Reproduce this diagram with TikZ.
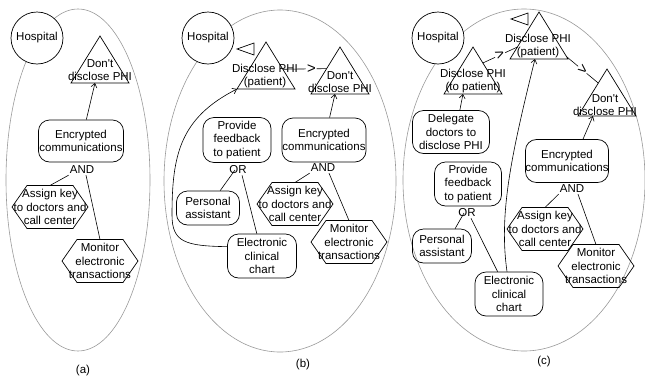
\documentclass[tikz,border=0pt]{standalone}
\usepackage{fontspec}
\setmainfont{Liberation Sans}
\usetikzlibrary{arrows.meta,calc}

\tikzset{
  every node/.style={font=\fontsize{11.5}{13.2}\selectfont, inner sep=0pt, align=center},
  boundary/.style={draw=black!40, line width=0.6pt},
  shapeline/.style={draw, line width=0.7pt},
  actor/.style={shapeline, circle, fill=white, minimum size=52pt},
  task/.style={shapeline, rounded corners=11pt},
  opmark/.style={inner sep=1pt},
  link/.style={line width=0.6pt},
  contrib/.style={link, -{Straight Barb[length=4pt,width=6pt]}},
  prefmark/.style={fill=white, sloped, font=\fontsize{15}{15}\selectfont, inner sep=1pt}
}

% softgoal triangle: name, apex x, apex y
\newcommand\softgoal[3]{%
  \coordinate (#1-apex) at (#2,#3);
  \coordinate (#1-bl) at ({#2-29},{#3+47});
  \coordinate (#1-br) at ({#2+29},{#3+47});
  \coordinate (#1-base) at (#2,{#3+47});
  \draw[shapeline] (#1-apex) -- (#1-br) -- (#1-bl) -- cycle;}

% hexagonal border around a resource node
\newcommand\hexborder[1]{%
  \draw[shapeline] ([shift={(-38pt,0pt)}]#1.center) -- ([shift={(-23pt,21.5pt)}]#1.center)
    -- ([shift={(23pt,21.5pt)}]#1.center) -- ([shift={(38pt,0pt)}]#1.center)
    -- ([shift={(23pt,-21.5pt)}]#1.center) -- ([shift={(-23pt,-21.5pt)}]#1.center) -- cycle;}

\begin{document}
\begin{tikzpicture}[x=1pt,y=-1pt]
\useasboundingbox (0,0) rectangle (645,378);

% ---------------- (a) ----------------
\draw[boundary] (78,180) ellipse [x radius=72pt, y radius=171pt];
\node[actor] (hosA) at (37,38) {Hospital};
\softgoal{dnA}{100}{36}
\node (dnAt) at (100,70) {Don\textquotesingle t\\disclose PHI};
\node[task, minimum width=85pt, minimum height=42pt] (encA) at (81,141) {Encrypted\\communications};
\node[opmark] (andA) at (82,170) {AND};
\node (asgA) at (50,207) {Assign key\\to doctors and\\call center};
\hexborder{asgA}
\node (monA) at (100,261) {Monitor\\electronic\\transactions};
\hexborder{monA}
\draw[contrib] (encA.76) -- ([xshift=-5pt]dnA-base);
\draw[link] (andA.south west) -- ([yshift=21.5pt]asgA.center);
\draw[link] ([xshift=4pt]andA.south) -- ([yshift=21.5pt]monA.center);
\node (capA) at (83,371) {(a)};

% ---------------- (b) ----------------
\draw[boundary] (280,181) ellipse [x radius=116pt, y radius=171pt];
\node[actor] (hosB) at (208,38) {Hospital};
\draw[shapeline] (237,49) -- (254,43) -- (254,55) -- cycle;
\softgoal{dpB}{266}{42}
\node (dpBt) at (265,76) {Disclose PHI\\(patient)};
\softgoal{dnB}{340}{47}
\node (dnBt) at (340,82) {Don\textquotesingle t\\disclose PHI};
\draw[link] ($(dpB-apex)!0.58!(dpB-br)$) -- node[prefmark, pos=0.65] {>} ($(dnB-apex)!0.46!(dnB-bl)$);
\node[task, minimum width=68pt, minimum height=45pt] (pfB) at (237,140) {Provide\\feedback\\to patient};
\node[opmark] (orB) at (238,170) {OR};
\node[task, minimum width=63pt, minimum height=34pt] (paB) at (208,208) {Personal\\assistant};
\node[task, minimum width=69pt, minimum height=44pt] (chB) at (262,256) {Electronic\\clinical\\chart};
\node[task, minimum width=84pt, minimum height=44pt] (encB) at (324,140) {Encrypted\\communications};
\node[opmark] (andB) at (323,168) {AND};
\node (asgB) at (295,204) {Assign key\\to doctors and\\call center};
\hexborder{asgB}
\node (monB) at (349,242) {Monitor\\electronic\\transactions};
\hexborder{monB}
\draw[contrib] (encB.76) -- ([xshift=-5pt]dnB-base);
\draw[link] ([xshift=-3pt]orB.center) -- (paB.55);
\draw[link] ([xshift=4pt]orB.south) -- (chB.103);
\draw[link] (andB.south west) -- ([yshift=21.5pt]asgB.center);
\draw[link] ([xshift=6pt]andB.south) -- ([yshift=21.5pt]monB.center);
\draw[contrib] (chB.165) .. controls (185,246) and (172,242) .. (172,215)
  .. controls (172,155) and (180,118) .. (dpB-bl);
\node (capB) at (303,365) {(b)};

% ---------------- (c) ----------------
\draw[boundary] (524,180) ellipse [x radius=121pt, y radius=171pt];
\node[actor] (hosC) at (438,38) {Hospital};
\draw[shapeline] (511,19) -- (528,13) -- (528,25) -- cycle;
\softgoal{dpC}{539}{12}
\node (dpCt) at (538,46) {Disclose PHI\\(patient)};
\softgoal{tpC}{473}{47}
\node (tpCt) at (473,81) {Disclose PHI\\(to patient)};
\softgoal{dnC}{607}{69}
\node (dnCt) at (605,105) {Don\textquotesingle t\\disclose PHI};
\draw[link] ($(tpC-apex)!0.34!(tpC-br)$) -- node[prefmark] {>} ($(dpC-apex)!0.745!(dpC-bl)$);
\draw[link] ($(dpC-apex)!0.95!(dpC-br)$) -- node[prefmark] {>} ($(dnC-apex)!0.3!(dnC-bl)$);
\node[task, minimum width=77pt, minimum height=43pt] (dlC) at (451,132) {Delegate\\doctors to\\disclose PHI};
\draw[contrib] (dlC.68) -- ([xshift=-10pt]tpC-base);
\node[task, minimum width=67pt, minimum height=44pt] (pfC) at (468,184) {Provide\\feedback\\to patient};
\node[opmark] (orC) at (467,213) {OR};
\node[task, minimum width=59pt, minimum height=34pt] (paC) at (442,246) {Personal\\assistant};
\node[task, minimum width=68pt, minimum height=44pt] (chC) at (509,294) {Electronic\\clinical\\chart};
\draw[link] ([xshift=-3pt]orC.center) -- (paC.53);
\draw[link] ([xshift=4pt]orC.south) -- (chC.117);
\draw[contrib] ([xshift=-2pt]chC.north) .. controls (499,215) and (510,160) .. ([xshift=-4pt]dpC-base);
\node[task, minimum width=75pt, minimum height=43pt] (encC) at (567,161) {Encrypted\\communications};
\draw[contrib] ([xshift=16pt]encC.north) -- ([xshift=-14pt]dnC-base);
\node[opmark] (andC) at (572,189) {AND};
\node (asgC) at (545,229) {Assign key\\to doctors and\\call center};
\hexborder{asgC}
\node (monC) at (596,266) {Monitor\\electronic\\transactions};
\hexborder{monC}
\draw[link] (andC.south west) -- ([yshift=21.5pt]asgC.center);
\draw[link] ([xshift=6pt]andC.south) -- ([yshift=21.5pt]monC.center);
\node (capC) at (544,362) {(c)};
\end{tikzpicture}
\end{document}
